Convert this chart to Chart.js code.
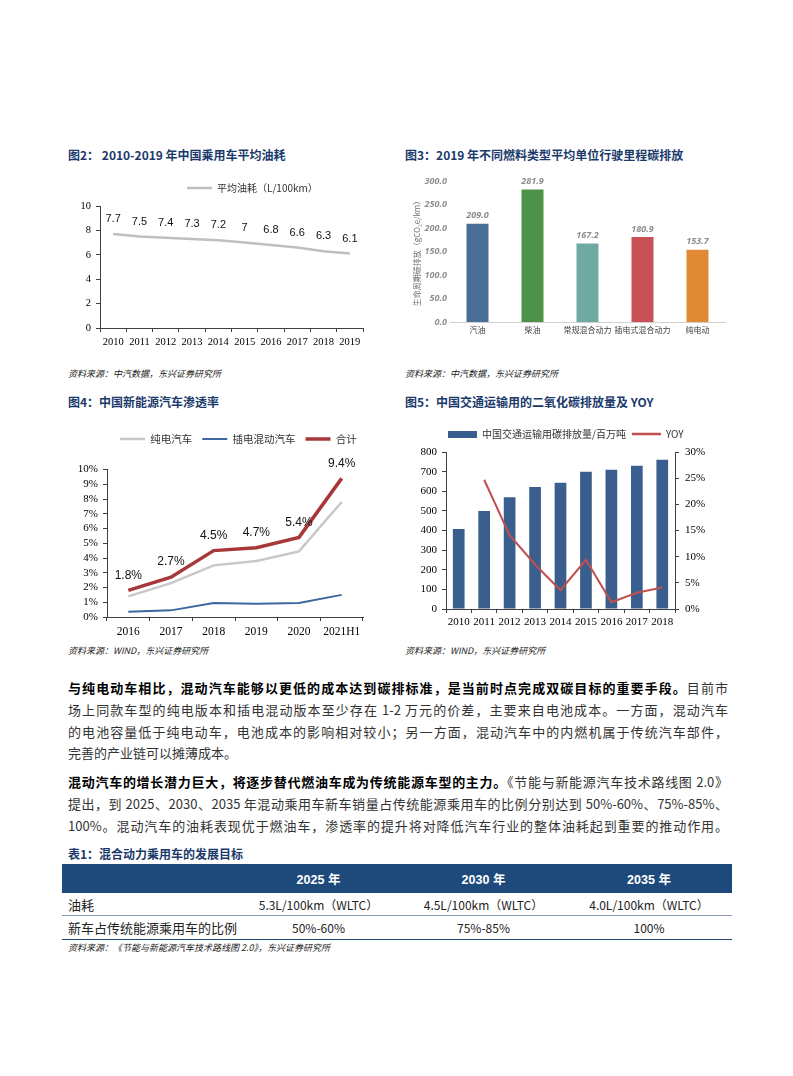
<!DOCTYPE html>
<html>
<head>
<meta charset="utf-8">
<script src="https://cdn.jsdelivr.net/npm/chart.js@4.4.1/dist/chart.umd.min.js"></script>
<style>
body { margin: 0; background: #fff; }
#page { position: relative; width: 793px; height: 1076px; overflow: hidden; font-family: "Noto Sans CJK SC", sans-serif; }
.ttl { position: absolute; font-size: 12px; font-weight: bold; color: #1b3a6b; line-height: 14px; white-space: nowrap; }
.src { position: absolute; font-size: 9px; font-style: italic; color: #222; line-height: 10px; white-space: nowrap; }
canvas { position: absolute; }
.ln { position: absolute; left: 68px; width: 660px; height: 22px; line-height: 22px; font-size: 13px; color: #333;
      white-space: nowrap; text-align: justify; text-align-last: justify; }
.ln b { color: #000; }
.ln.last { text-align-last: left; }
#tbl { position: absolute; left: 62px; top: 864px; width: 670px; }
#tbl table { border-collapse: collapse; table-layout: fixed; width: 670px; }
#tbl td { padding: 0; text-align: center; font-size: 12px; color: #222; white-space: nowrap; }
#tbl tr.hd td { height: 29px; background: #1d4a7a; color: #fff; font-weight: bold; font-size: 12.5px; font-family: "Liberation Sans", "Noto Sans CJK SC", sans-serif; }
#tbl tr.r1 td { height: 22px; border-bottom: 1px solid #8a9ab0; }
#tbl tr.r2 td { height: 23px; border-bottom: 1px solid #1d4a7a; }
#tbl td.l { text-align: left; padding-left: 6px; font-size: 13px; }
</style>
</head>
<body>
<div id="page">
  <div class="ttl" style="left:68px;top:148px;">图2： 2010-2019 年中国乘用车平均油耗</div>
  <div class="ttl" style="left:405px;top:148px;">图3：2019 年不同燃料类型平均单位行驶里程碳排放</div>
  <canvas id="c2" width="312" height="182" style="left:62px;top:176px;"></canvas>
  <canvas id="c3" width="330" height="176" style="left:400px;top:168px;"></canvas>
  <div class="src" style="left:68px;top:369px;">资料来源：中汽数据，东兴证券研究所</div>
  <div class="src" style="left:405px;top:369px;">资料来源：中汽数据，东兴证券研究所</div>

  <div class="ttl" style="left:68px;top:395px;">图4：中国新能源汽车渗透率</div>
  <div class="ttl" style="left:405px;top:395px;">图5：中国交通运输用的二氧化碳排放量及 YOY</div>
  <canvas id="c4" width="316" height="220" style="left:62px;top:424px;"></canvas>
  <canvas id="c5" width="330" height="215" style="left:400px;top:420px;"></canvas>
  <div class="src" style="left:68px;top:646px;">资料来源：WIND，东兴证券研究所</div>
  <div class="src" style="left:405px;top:646px;">资料来源：WIND，东兴证券研究所</div>

  <div class="ln" style="top:677px;"><b>与纯电动车相比，混动汽车能够以更低的成本达到碳排标准，是当前时点完成双碳目标的重要手段。</b>目前市</div>
  <div class="ln" style="top:699px;">场上同款车型的纯电版本和插电混动版本至少存在 1-2 万元的价差，主要来自电池成本。一方面，混动汽车</div>
  <div class="ln" style="top:721px;">的电池容量低于纯电动车，电池成本的影响相对较小；另一方面，混动汽车中的内燃机属于传统汽车部件，</div>
  <div class="ln last" style="top:742px;">完善的产业链可以摊薄成本。</div>
  <div class="ln" style="top:771px;"><b>混动汽车的增长潜力巨大，将逐步替代燃油车成为传统能源车型的主力。</b>《节能与新能源汽车技术路线图 2.0》</div>
  <div class="ln" style="top:793px;">提出，到 2025、2030、2035 年混动乘用车新车销量占传统能源乘用车的比例分别达到 50%-60%、75%-85%、</div>
  <div class="ln" style="top:815px;">100%。混动汽车的油耗表现优于燃油车，渗透率的提升将对降低汽车行业的整体油耗起到重要的推动作用。</div>

  <div class="ttl" style="left:68px;top:847px;">表1：混合动力乘用车的发展目标</div>
  <div id="tbl">
    <table>
      <colgroup><col style="width:174px"><col style="width:165px"><col style="width:165px"><col style="width:166px"></colgroup>
      <tr class="hd"><td></td><td>2025 年</td><td>2030 年</td><td>2035 年</td></tr>
      <tr class="r1"><td class="l">油耗</td><td>5.3L/100km（WLTC）</td><td>4.5L/100km（WLTC）</td><td>4.0L/100km（WLTC）</td></tr>
      <tr class="r2"><td class="l">新车占传统能源乘用车的比例</td><td>50%-60%</td><td>75%-85%</td><td>100%</td></tr>
    </table>
  </div>
  <div class="src" style="left:68px;top:943px;">资料来源：《节能与新能源汽车技术路线图 2.0》，东兴证券研究所</div>
</div>

<script>
// fig 2: average fuel consumption
const years2 = ['2010', '2011', '2012', '2013', '2014', '2015', '2016', '2017', '2018', '2019'];
const fuel2 = [7.7, 7.5, 7.4, 7.3, 7.2, 7, 6.8, 6.6, 6.3, 6.1];

// fig 3: carbon per km by fuel type
const fuelTypes3 = ['汽油', '柴油', '常规混合动力', '插电式混合动力', '纯电动'];
const carbon3 = [209.0, 281.9, 167.2, 180.9, 153.7];

// fig 4: NEV penetration (%)
const years4 = ['2016', '2017', '2018', '2019', '2020', '2021H1'];
const bev4 = [1.4, 2.3, 3.5, 3.8, 4.45, 7.8];
const phev4 = [0.35, 0.45, 0.95, 0.9, 0.95, 1.5];
const total4 = [1.8, 2.7, 4.5, 4.7, 5.4, 9.4];

// fig 5: transport CO2 emissions and yoy (%)
const years5 = ['2010', '2011', '2012', '2013', '2014', '2015', '2016', '2017', '2018'];
const emission5 = [408, 500, 570, 622, 643, 700, 710, 730, 760];
const yoy5 = [null, 24.7, 14.1, 8.5, 3.6, 9.4, 1.3, 3.1, 4.1];

const SERIF = 'Liberation Serif';
const CJK = 'Noto Sans CJK SC';

// draws the value over each point / bar
const valueLabels = {
  id: 'valueLabels',
  afterDatasetsDraw(chart) {
    const ctx = chart.ctx;
    chart.data.datasets.forEach((ds, di) => {
      const lab = ds.valueLabels;
      if (!lab) return;
      const meta = chart.getDatasetMeta(di);
      ctx.save();
      ctx.font = lab.font;
      ctx.fillStyle = lab.color;
      ctx.textAlign = 'center';
      ctx.textBaseline = 'middle';
      meta.data.forEach((el, i) => {
        const v = ds.data[i];
        if (v == null) return;
        ctx.fillText(lab.fmt(v), el.x, el.y - lab.offset);
      });
      ctx.restore();
    });
  }
};

// moves the legend row to a given start x / centre y
const legendPos = {
  id: 'legendPos',
  afterLayout(chart, args, opts) {
    const lg = chart.legend;
    if (!lg || !opts || opts.x == null) return;
    const pad = lg.options.labels.padding;
    const start = (lg.left + pad + lg.right - lg.lineWidths[0]) / 2;
    const dx = opts.x - start;
    lg.left += dx; lg.right += dx;
    const dy = opts.y - (lg.top + pad + opts.fs / 2);
    lg.top += dy; lg.bottom += dy;
  }
};
Chart.register(valueLabels, legendPos);

function lineLegend(chart) {
  return chart.data.datasets.map((d, i) => ({
    text: d.label, datasetIndex: i, hidden: false,
    strokeStyle: d.borderColor, fillStyle: d.borderColor, lineWidth: d.borderWidth,
    pointStyle: 'line', fontColor: '#333'
  }));
}

function tickAxis(extra) {
  return Object.assign({
    grid: { display: true, drawOnChartArea: false, offset: true, tickLength: 4, color: '#404040' },
    border: { display: true, color: '#404040' }
  }, extra);
}

new Chart(document.getElementById('c2'), {
  type: 'line',
  data: {
    labels: years2,
    datasets: [{
      label: '平均油耗（L/100km）',
      data: fuel2,
      borderColor: '#bfbfbf',
      borderWidth: 2.5,
      pointRadius: 0,
      tension: 0,
      valueLabels: { font: "11px 'Liberation Sans'", color: '#111', offset: 15, fmt: v => String(v) }
    }]
  },
  options: {
    responsive: false,
    animation: false,
    layout: { padding: { right: 11 } },
    plugins: {
      legend: {
        labels: { usePointStyle: true, pointStyleWidth: 25, padding: 10, generateLabels: lineLegend,
                  font: { family: CJK, size: 10 }, color: '#595959' }
      },
      legendPos: { x: 125, y: 12, fs: 10 },
      tooltip: { enabled: false }
    },
    scales: {
      x: tickAxis({
        offset: true,
        ticks: { font: { family: SERIF, size: 10.5 }, color: '#000', padding: 4, maxRotation: 0, autoSkip: false },
        afterFit: s => { s.height = 30; }
      }),
      y: tickAxis({
        min: 0, max: 10,
        grid: { display: true, drawOnChartArea: false, tickLength: 4, color: '#404040' },
        ticks: { stepSize: 2, autoSkip: false, font: { family: SERIF, size: 10.5 }, color: '#000', padding: 5 },
        afterFit: s => { s.width = 38; }
      })
    }
  }
});

new Chart(document.getElementById('c3'), {
  type: 'bar',
  data: {
    labels: fuelTypes3,
    datasets: [{
      label: '碳排放',
      data: carbon3,
      backgroundColor: ['#4a6f96', '#4e9249', '#6faaa2', '#c85157', '#e08a35'],
      barPercentage: 0.4,
      categoryPercentage: 1.0,
      valueLabels: { font: "italic bold 9px 'Open Sans'", color: '#8c8c8c', offset: 8, fmt: v => v.toFixed(1) }
    }]
  },
  options: {
    responsive: false,
    animation: false,
    layout: { padding: { top: 13, right: 5 } },
    plugins: { legend: { display: false }, tooltip: { enabled: false } },
    scales: {
      x: {
        grid: { display: false, drawTicks: false },
        border: { display: true, color: '#d0d0d0' },
        ticks: { font: { family: CJK, size: 8 }, color: '#404040', padding: 3, maxRotation: 0, autoSkip: false },
        afterFit: s => { s.height = 22; }
      },
      y: {
        min: 0, max: 300,
        grid: { display: false, drawTicks: false },
        border: { display: false },
        ticks: { stepSize: 50, autoSkip: false, callback: v => v.toFixed(1), font: { family: 'Open Sans', style: 'italic', weight: 'bold', size: 9 }, color: '#8f8f8f', padding: 3 },
        title: { display: true, text: '生命周期碳排放（gCO₂e/km）', font: { family: CJK, size: 8 }, color: '#6f6f6f', padding: { top: 12, bottom: 0 } },
        afterFit: s => { s.width = 50; }
      }
    }
  }
});

new Chart(document.getElementById('c4'), {
  type: 'line',
  data: {
    labels: years4,
    datasets: [
      { label: '纯电汽车', data: bev4, borderColor: '#c8c8c8', borderWidth: 2.5, pointRadius: 0, tension: 0 },
      { label: '插电混动汽车', data: phev4, borderColor: '#3c67a0', borderWidth: 2, pointRadius: 0, tension: 0 },
      {
        label: '合计', data: total4, borderColor: '#a8373a', borderWidth: 3.5, pointRadius: 0, tension: 0,
        valueLabels: { font: "12px 'Liberation Sans'", color: '#111', offset: 15, fmt: v => v.toFixed(1) + '%' }
      }
    ]
  },
  options: {
    responsive: false,
    animation: false,
    layout: { padding: { top: 15, right: 15 } },
    plugins: {
      legend: {
        labels: { usePointStyle: true, pointStyleWidth: 25, padding: 10, generateLabels: lineLegend,
                  font: { family: CJK, size: 10.5 }, color: '#333' }
      },
      legendPos: { x: 58, y: 15, fs: 10.5 },
      tooltip: { enabled: false }
    },
    scales: {
      x: tickAxis({
        offset: true,
        ticks: { font: { family: SERIF, size: 11.5 }, color: '#000', padding: 4, maxRotation: 0, autoSkip: false },
        afterFit: s => { s.height = 27; }
      }),
      y: tickAxis({
        min: 0, max: 10,
        grid: { display: true, drawOnChartArea: false, tickLength: 4, color: '#404040' },
        ticks: { stepSize: 1, autoSkip: false, callback: v => v + '%', font: { family: SERIF, size: 11 }, color: '#000', padding: 5 },
        afterFit: s => { s.width = 45; }
      })
    }
  }
});

const barSwatch = document.createElement('canvas');
barSwatch.width = 29; barSwatch.height = 7;
const sg = barSwatch.getContext('2d');
sg.fillStyle = '#3a5f8e';
sg.fillRect(0, 0, 29, 7);

new Chart(document.getElementById('c5'), {
  data: {
    labels: years5,
    datasets: [
      { type: 'bar', label: '中国交通运输用碳排放量/百万吨', data: emission5, backgroundColor: '#3a5f8e',
        barPercentage: 0.46, categoryPercentage: 1.0, yAxisID: 'y', order: 2 },
      { type: 'line', label: 'YOY', data: yoy5, borderColor: '#c0504d', borderWidth: 2, pointRadius: 0,
        tension: 0, yAxisID: 'y1', order: 1 }
    ]
  },
  options: {
    responsive: false,
    animation: false,
    layout: { padding: { top: 6 } },
    plugins: {
      legend: {
        labels: {
          usePointStyle: true, pointStyleWidth: 29, padding: 6,
          font: { family: CJK, size: 10 }, color: '#333',
          generateLabels: chart => chart.data.datasets.map((d, i) => ({
            text: d.label, datasetIndex: i, hidden: false, fontColor: '#333',
            pointStyle: d.type === 'bar' ? barSwatch : 'line',
            strokeStyle: d.borderColor || d.backgroundColor, fillStyle: d.backgroundColor || d.borderColor,
            lineWidth: d.type === 'bar' ? 0 : 2.5
          }))
        }
      },
      legendPos: { x: 48, y: 14, fs: 10 },
      tooltip: { enabled: false }
    },
    scales: {
      x: tickAxis({
        offset: true,
        ticks: { font: { family: SERIF, size: 11 }, color: '#000', padding: 3, maxRotation: 0, autoSkip: false },
        afterFit: s => { s.height = 26; }
      }),
      y: tickAxis({
        position: 'left', min: 0, max: 800,
        grid: { display: true, drawOnChartArea: false, tickLength: 4, color: '#404040' },
        ticks: { stepSize: 100, autoSkip: false, font: { family: SERIF, size: 11 }, color: '#000', padding: 5 },
        afterFit: s => { s.width = 46; }
      }),
      y1: tickAxis({
        position: 'right', min: 0, max: 30,
        grid: { display: true, drawOnChartArea: false, tickLength: 4, color: '#404040' },
        ticks: { stepSize: 5, autoSkip: false, callback: v => v + '%', font: { family: SERIF, size: 11 }, color: '#000', padding: 6 },
        afterFit: s => { s.width = 55; }
      })
    }
  }
});
</script>
</body>
</html>
